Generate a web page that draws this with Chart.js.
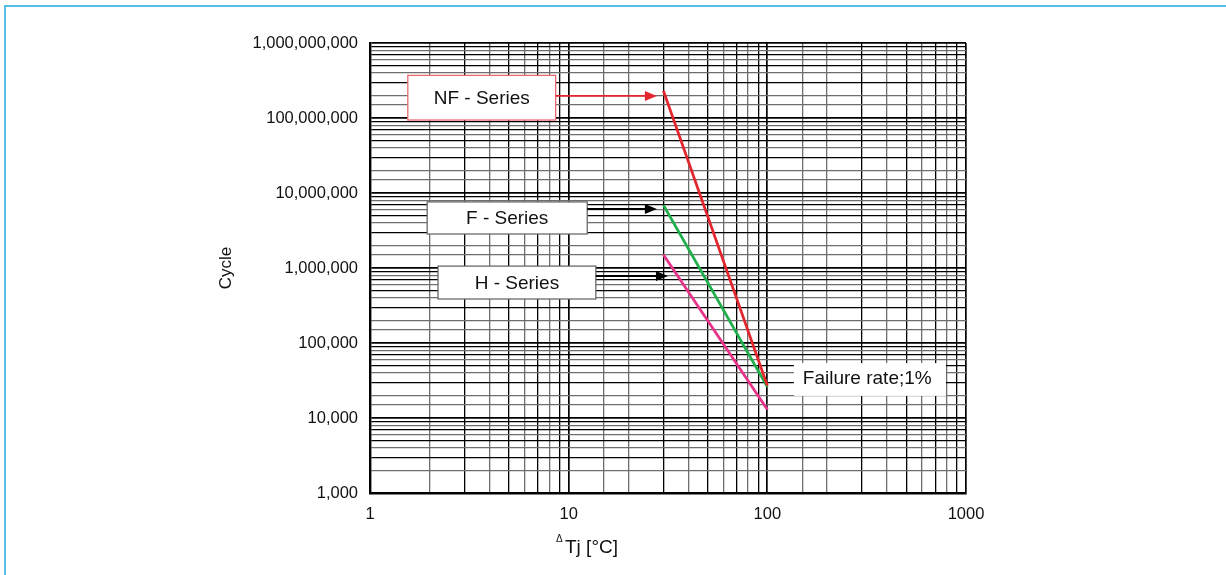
<!DOCTYPE html>
<html>
<head>
<meta charset="utf-8">
<script src="https://cdn.jsdelivr.net/npm/chart.js@4.4.0/dist/chart.umd.min.js"></script>
<style>
  html, body { margin: 0; padding: 0; background: #fff; }
  #wrap { position: relative; width: 1226px; height: 575px; }
  #frame { position: absolute; left: 4px; top: 5px; right: 0; bottom: 0;
           border-left: 2px solid #55bde6; border-top: 2px solid #55bde6; pointer-events: none; }
</style>
</head>
<body>
<div id="wrap">
  <canvas id="chart" width="1226" height="575"></canvas>
  <div id="frame"></div>
</div>
<script>
// ===== DATA =====
const deltaT = [30, 100];
const nfCycles = [2.3e8, 2.7e4];
const fCycles = [6.9e6, 2.6e4];
const hCycles = [1.5e6, 1.3e4];
const xTicks = [1, 10, 100, 1000];
const yTicks = [1e3, 1e4, 1e5, 1e6, 1e7, 1e8, 1e9];

const FONT = 'Arial, "Liberation Sans", sans-serif';
const COLORS = {
  nf: '#e3262d',
  f: '#1fae4b',
  h: '#e8338a',
  text: '#111',
};

// annotation boxes, placed in data units (x: deltaT, y: cycles)
const notes = [
  { text: 'NF - Series', x1: 1.55, x2: 8.6, y1: 3.7e8, y2: 9.4e7, arrowY: 1.97e8, tipX: 27.8, border: '#e86a70', arrow: COLORS.nf },
  { text: 'F - Series', x1: 1.94, x2: 12.4, y1: 7.6e6, y2: 2.84e6, arrowY: 6.12e6, tipX: 27.8, border: '#6a6a6a', arrow: '#000' },
  { text: 'H - Series', x1: 2.2, x2: 13.7, y1: 1.06e6, y2: 3.86e5, arrowY: 7.82e5, tipX: 31.6, border: '#6a6a6a', arrow: '#000' },
];
const failNote = { text: 'Failure rate;1%', x1: 136, x2: 792, y1: 5.4e4, y2: 1.97e4 };

const isDecade = (v) => Math.abs(Math.log10(v) - Math.round(Math.log10(v))) < 1e-9;
const mantissa = (v) => Math.round(v / Math.pow(10, Math.floor(Math.log10(v) + 1e-9)));

const gridColor = (ctx) => {
  const v = ctx.tick && ctx.tick.value;
  if (!v || isDecade(v)) return '#000';
  return mantissa(v) % 2 ? '#000' : '#6e6e6e';
};
const gridWidth = (ctx) => (ctx.tick && isDecade(ctx.tick.value) ? 1.7 : 1.3);

const toPoints = (ys) => deltaT.map((x, i) => ({ x, y: ys[i] }));

// ===== ANNOTATIONS PLUGIN =====
const annotations = {
  id: 'annotations',
  afterDatasetsDraw(chart) {
    const { ctx, scales: { x, y } } = chart;
    ctx.save();
    ctx.font = '19px ' + FONT;
    ctx.textBaseline = 'middle';

    notes.forEach((n) => {
      const l = x.getPixelForValue(n.x1), r = x.getPixelForValue(n.x2);
      const t = y.getPixelForValue(n.y1), b = y.getPixelForValue(n.y2);
      ctx.fillStyle = '#fff';
      ctx.fillRect(l, t, r - l, b - t);
      ctx.strokeStyle = n.border;
      ctx.lineWidth = 1.3;
      ctx.strokeRect(l, t, r - l, b - t);
      ctx.fillStyle = COLORS.text;
      ctx.textAlign = 'center';
      ctx.fillText(n.text, (l + r) / 2, (t + b) / 2 + 1);

      const ay = y.getPixelForValue(n.arrowY);
      const tip = x.getPixelForValue(n.tipX);
      ctx.strokeStyle = n.arrow;
      ctx.fillStyle = n.arrow;
      ctx.lineWidth = 1.8;
      ctx.beginPath();
      ctx.moveTo(r, ay);
      ctx.lineTo(tip - 8, ay);
      ctx.stroke();
      ctx.beginPath();
      ctx.moveTo(tip, ay);
      ctx.lineTo(tip - 12, ay - 5);
      ctx.lineTo(tip - 12, ay + 5);
      ctx.closePath();
      ctx.fill();
    });

    const l = x.getPixelForValue(failNote.x1), r = x.getPixelForValue(failNote.x2);
    const t = y.getPixelForValue(failNote.y1), b = y.getPixelForValue(failNote.y2);
    ctx.fillStyle = '#fff';
    ctx.fillRect(l, t, r - l, b - t);
    ctx.fillStyle = COLORS.text;
    ctx.textAlign = 'left';
    ctx.fillText(failNote.text, l + 9, (t + b) / 2 - 1);

    // x axis title: small delta + Tj [°C]
    const cx = chart.chartArea.left + 186;
    ctx.textBaseline = 'alphabetic';
    ctx.font = '10px ' + FONT;
    ctx.fillText('\u0394', cx, 542);
    ctx.font = '19px ' + FONT;
    ctx.fillText('Tj [\u00b0C]', cx + 9, 553);
    ctx.restore();
  },
};

// ===== CHART =====
new Chart(document.getElementById('chart'), {
  type: 'line',
  data: {
    datasets: [
      { label: 'NF - Series', data: toPoints(nfCycles), borderColor: COLORS.nf },
      { label: 'F - Series', data: toPoints(fCycles), borderColor: COLORS.f },
      { label: 'H - Series', data: toPoints(hCycles), borderColor: COLORS.h },
    ].map((d) => ({ ...d, borderWidth: 2.8, pointRadius: 0, fill: false, tension: 0 })),
  },
  options: {
    responsive: false,
    animation: false,
    layout: { padding: { left: 216, top: 43, right: 260, bottom: 0 } },
    plugins: { legend: { display: false }, tooltip: { enabled: false } },
    scales: {
      x: {
        type: 'logarithmic',
        min: 1,
        max: 1000,
        afterFit: (s) => { s.height = 82; },
        grid: { color: gridColor, lineWidth: gridWidth, drawTicks: false },
        border: { color: '#000', width: 2.4 },
        ticks: {
          autoSkip: false,
          maxRotation: 0,
          padding: 12,
          color: COLORS.text,
          font: { family: FONT, size: 16.5 },
          callback: (v) => (xTicks.some((t) => Math.abs(t - v) < 1e-9) ? String(v) : ''),
        },
      },
      y: {
        type: 'logarithmic',
        min: 1e3,
        max: 1e9,
        afterFit: (s) => { s.width = 154; },
        grid: { color: gridColor, lineWidth: gridWidth, drawTicks: false },
        border: { color: '#000', width: 2.4 },
        title: { display: true, text: 'Cycle', color: COLORS.text, font: { family: FONT, size: 17 }, padding: 0 },
        ticks: {
          autoSkip: false,
          padding: 12,
          color: COLORS.text,
          font: { family: FONT, size: 16.5 },
          callback: (v) => (yTicks.some((t) => Math.abs(t - v) / t < 1e-9) ? v.toLocaleString('en-US') : ''),
        },
      },
    },
  },
  plugins: [annotations],
});
</script>
</body>
</html>
